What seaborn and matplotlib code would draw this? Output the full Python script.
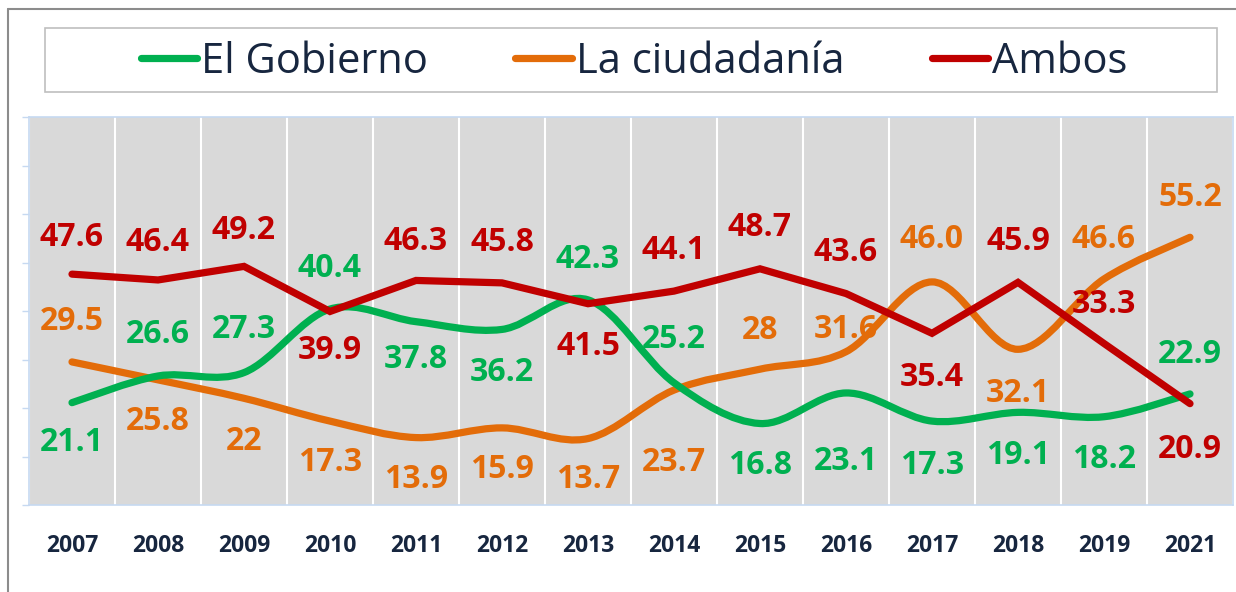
"""
plot.py — Percepción de responsabilidad: El Gobierno / La ciudadanía / Ambos (2007-2021)
"""
import matplotlib
matplotlib.use("Agg")
import matplotlib.pyplot as plt
import matplotlib.ticker as mticker
from matplotlib.lines import Line2D
from matplotlib.patches import PathPatch, Rectangle
from matplotlib.path import Path
import pandas as pd
import seaborn as sns

# ─── Data ─────────────────────────────────────────────────────────────────────
YEARS = ["2007", "2008", "2009", "2010", "2011", "2012", "2013",
         "2014", "2015", "2016", "2017", "2018", "2019", "2021"]

GOBIERNO = [21.1, 26.6, 27.3, 40.4, 37.8, 36.2, 42.3, 25.2, 16.8, 23.1, 17.3, 19.1, 18.2, 22.9]
CIUDADANIA = [29.5, 25.8, 22.0, 17.3, 13.9, 15.9, 13.7, 23.7, 28.0, 31.6, 46.0, 32.1, 46.6, 55.2]
AMBOS = [47.6, 46.4, 49.2, 39.9, 46.3, 45.8, 41.5, 44.1, 48.7, 43.6, 35.4, 45.9, 33.3, 20.9]

GOBIERNO_TXT = ["21.1", "26.6", "27.3", "40.4", "37.8", "36.2", "42.3",
                "25.2", "16.8", "23.1", "17.3", "19.1", "18.2", "22.9"]
CIUDADANIA_TXT = ["29.5", "25.8", "22", "17.3", "13.9", "15.9", "13.7",
                  "23.7", "28", "31.6", "46.0", "32.1", "46.6", "55.2"]
AMBOS_TXT = ["47.6", "46.4", "49.2", "39.9", "46.3", "45.8", "41.5",
             "44.1", "48.7", "43.6", "35.4", "45.9", "33.3", "20.9"]

SERIES = ["El Gobierno", "La ciudadanía", "Ambos"]

# label offsets in pixels (negative = above the line)
GOBIERNO_OFF = [40, -41, -43, -41, 38, 43, -40, -43, 42, 69, 44, 43, 43, -39]
CIUDADANIA_OFF = [-40, 42, 43, 41, 42, 42, 41, 72, -39, -22, -42, 44, -39, -40]
AMBOS_OFF = [-37, -37, -36, 39, -39, -40, 43, -41, -41, -41, 44, -41, -39, 46]

# ─── Style ────────────────────────────────────────────────────────────────────
GREEN = "#00b050"
ORANGE = "#e36c09"
RED = "#c00000"
NAVY = "#17263f"
PLOT_BG = "#d9d9d9"
AXIS_BLUE = "#c6d9f1"
DPI = 100

sns.set_style("white")
plt.rcParams["font.family"] = ["Open Sans", "DejaVu Sans"]


def px(v):
    return v * 72.0 / DPI


def smooth_path(xs, ys):
    """Excel-style smoothed line: Catmull-Rom segments as cubic Beziers."""
    pts = list(zip(xs, ys))
    n = len(pts)
    verts = [pts[0]]
    codes = [Path.MOVETO]
    for i in range(n - 1):
        p0 = pts[i - 1] if i > 0 else pts[i]
        p1 = pts[i]
        p2 = pts[i + 1]
        p3 = pts[i + 2] if i + 2 < n else pts[i + 1]
        c1 = (p1[0] + (p2[0] - p0[0]) / 6, p1[1] + (p2[1] - p0[1]) / 6)
        c2 = (p2[0] - (p3[0] - p1[0]) / 6, p2[1] - (p3[1] - p1[1]) / 6)
        verts += [c1, c2, p2]
        codes += [Path.CURVE4] * 3
    return Path(verts, codes)


# ─── Figure ───────────────────────────────────────────────────────────────────
fig = plt.figure(figsize=(1236 / DPI, 592 / DPI), dpi=DPI, facecolor="white")
ax = fig.add_axes([29 / 1236, 1 - 505 / 592, (1233 - 29) / 1236, (505 - 117) / 592])
ax.set_facecolor(PLOT_BG)

x = list(range(len(YEARS)))
df = pd.DataFrame({"x": x, "Ambos": AMBOS})

# smoothed series
for vals, color in [(CIUDADANIA, ORANGE), (GOBIERNO, GREEN)]:
    patch = PathPatch(smooth_path(x, vals), facecolor="none", edgecolor=color,
                      lw=5.2, capstyle="round", joinstyle="round", zorder=3)
    ax.add_patch(patch)

# straight series
sns.lineplot(data=df, x="x", y="Ambos", ax=ax, color=RED, lw=5.2, zorder=4,
             solid_capstyle="round", solid_joinstyle="miter", legend=False)

# data labels
for vals, txts, offs, color in [(GOBIERNO, GOBIERNO_TXT, GOBIERNO_OFF, GREEN),
                                (CIUDADANIA, CIUDADANIA_TXT, CIUDADANIA_OFF, ORANGE),
                                (AMBOS, AMBOS_TXT, AMBOS_OFF, RED)]:
    for xi, v, t, o in zip(x, vals, txts, offs):
        ax.annotate(t, (xi, v), xytext=(0, -px(o)), textcoords="offset points",
                    ha="center", va="center", color=color, fontsize=23,
                    fontweight="bold", zorder=5)

# axes
ax.set_xlim(-0.5, len(YEARS) - 0.5)
ax.set_ylim(0, 80)
ax.set_xlabel("")
ax.set_ylabel("")
ax.xaxis.set_major_locator(mticker.FixedLocator(x))
ax.set_xticklabels(YEARS, fontsize=16.5, fontweight="bold", color=NAVY)
ax.xaxis.set_minor_locator(mticker.FixedLocator([i - 0.5 for i in range(len(YEARS) + 1)]))
ax.yaxis.set_major_locator(mticker.MultipleLocator(10))
ax.set_yticklabels([])
ax.tick_params(axis="x", which="major", length=0, pad=21)
ax.tick_params(axis="x", which="minor", length=8, width=1.2, color=AXIS_BLUE, direction="out")
ax.tick_params(axis="y", which="major", length=5, width=1, color=AXIS_BLUE, direction="out", left=True)
ax.grid(False)
ax.grid(True, which="minor", axis="x", color="white", lw=1.5)
for s in ax.spines.values():
    s.set_visible(True)
    s.set_color(AXIS_BLUE)
    s.set_linewidth(1.2)

# outer frame (left and top edges visible)
fig.add_artist(Line2D([8 / 1236, 8 / 1236], [0, 1 - 9 / 592], transform=fig.transFigure,
                      color="#8c8c8c", lw=1.5))
fig.add_artist(Line2D([8 / 1236, 1], [1 - 9 / 592, 1 - 9 / 592], transform=fig.transFigure,
                      color="#8c8c8c", lw=1.5))

# legend box
fig.add_artist(Rectangle((45 / 1236, 1 - 92 / 592), (1217 - 45) / 1236, (92 - 28) / 592,
                         transform=fig.transFigure, fill=False, edgecolor="#bfbfbf", lw=1.2))
handles = [Line2D([], [], color=c, lw=5.2, solid_capstyle="round") for c in (GREEN, ORANGE, RED)]
leg = fig.legend(handles, SERIES, loc="center", bbox_to_anchor=(634 / 1236, 1 - 62 / 592),
                 ncol=3, frameon=False, fontsize=30, handlelength=1.35, handletextpad=0.1,
                 columnspacing=2.1, borderpad=0)
for t in leg.get_texts():
    t.set_color(NAVY)

fig.savefig("out.png", dpi=DPI, facecolor="white")
plt.close(fig)
